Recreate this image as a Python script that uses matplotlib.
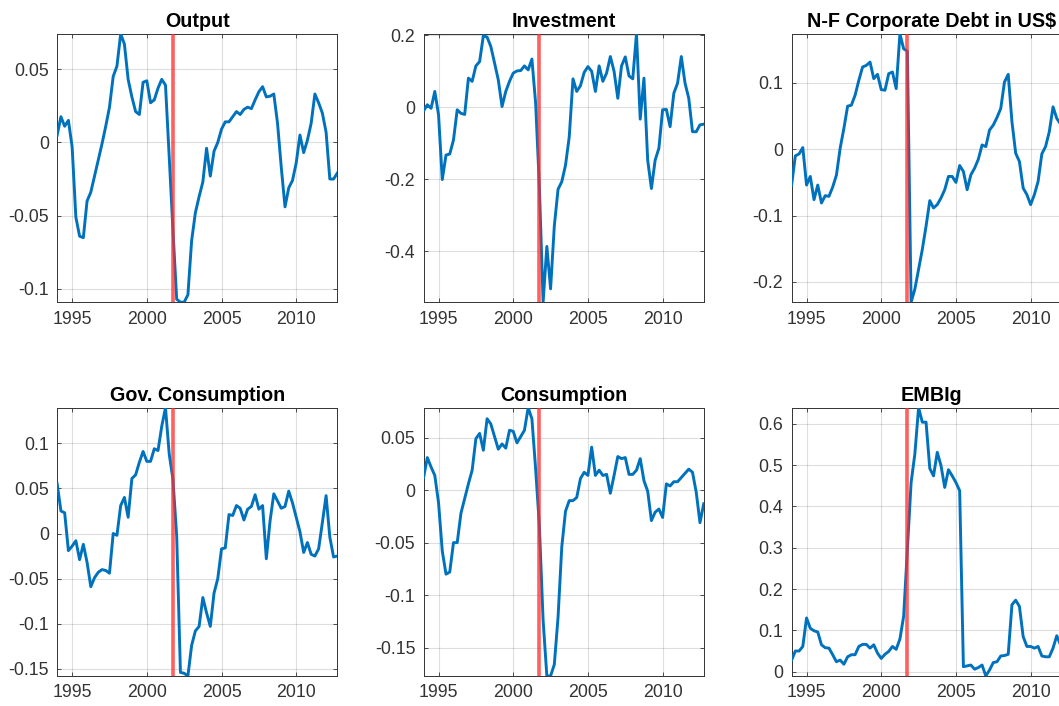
import numpy as np
import matplotlib
matplotlib.use("Agg")
import matplotlib.pyplot as plt
from matplotlib.ticker import FormatStrFormatter

plt.rcParams['font.family'] = ['Liberation Sans', 'DejaVu Sans']
plt.rcParams['axes.unicode_minus'] = False

# quarterly sample 1994Q1 - 2012Q4
quarters = 1994 + 0.25 * np.arange(76)
crisis = 2001.75

output = [
    0.005, 0.0175, 0.011, 0.015,
    -0.003, -0.051, -0.064, -0.065,
    -0.040, -0.034, -0.023, -0.012,
    -0.001, 0.011, 0.024, 0.045,
    0.052, 0.074, 0.067, 0.043,
    0.031, 0.021, 0.019, 0.041,
    0.042, 0.027, 0.029, 0.037,
    0.043, 0.039, -0.010, -0.060,
    -0.107, -0.109, -0.109, -0.104,
    -0.067, -0.048, -0.037, -0.027,
    -0.004, -0.023, -0.006, 0.000,
    0.009, 0.014, 0.014, 0.0175,
    0.021, 0.019, 0.0225, 0.024,
    0.023, 0.029, 0.0345, 0.038,
    0.031, 0.0315, 0.033, 0.013,
    -0.017, -0.044, -0.031, -0.026,
    -0.014, 0.005, -0.007, 0.0015,
    0.013, 0.033, 0.027, 0.020,
    0.007, -0.025, -0.025, -0.021,
]

investment = [
    -0.010, 0.007, -0.003, 0.044,
    -0.021, -0.201, -0.133, -0.130,
    -0.091, -0.007, -0.017, -0.020,
    0.081, 0.072, 0.115, 0.127,
    0.199, 0.195, 0.169, 0.123,
    0.076, 0.002, 0.044, 0.072,
    0.095, 0.101, 0.102, 0.115,
    0.104, 0.134, 0.011, -0.221,
    -0.542, -0.387, -0.505, -0.330,
    -0.228, -0.207, -0.161, -0.082,
    0.079, 0.044, 0.060, 0.097,
    0.113, 0.100, 0.044, 0.115,
    0.072, 0.095, 0.141, 0.100,
    0.025, 0.115, 0.140, 0.087,
    0.079, 0.204, -0.033, 0.081,
    -0.147, -0.226, -0.147, -0.114,
    -0.007, -0.006, -0.054, 0.039,
    0.067, 0.141, 0.067, 0.025,
    -0.068, -0.068, -0.049, -0.047,
]

nf_debt = [
    -0.054, -0.010, -0.007, 0.0025,
    -0.054, -0.041, -0.076, -0.054,
    -0.081, -0.070, -0.071, -0.057,
    -0.039, 0.0015, 0.0315, 0.065,
    0.0665, 0.0815, 0.104, 0.124,
    0.1265, 0.1315, 0.1065, 0.113,
    0.090, 0.089, 0.114, 0.1165,
    0.0915, 0.174, 0.1515, 0.148,
    -0.2306, -0.211, -0.181, -0.151,
    -0.116, -0.0775, -0.0885, -0.0835,
    -0.0735, -0.061, -0.041, -0.041,
    -0.050, -0.0245, -0.0335, -0.061,
    -0.0385, -0.0285, -0.015, 0.0065,
    0.004, 0.029, 0.0365, 0.048,
    0.0615, 0.1015, 0.113, 0.0415,
    -0.006, -0.0185, -0.0585, -0.0685,
    -0.0835, -0.0685, -0.0485, -0.007,
    0.004, 0.0265, 0.064, 0.0465,
    0.038, 0.035, 0.030, 0.028,
]

gov_cons = [
    0.055, 0.025, 0.023, -0.019,
    -0.014, -0.008, -0.029, -0.012,
    -0.032, -0.059, -0.049, -0.043,
    -0.040, -0.041, -0.044, 0.000,
    -0.002, 0.031, 0.040, 0.018,
    0.061, 0.065, 0.079, 0.091,
    0.080, 0.080, 0.094, 0.092,
    0.119, 0.1395, 0.088, 0.060,
    -0.003, -0.154, -0.155, -0.158,
    -0.124, -0.108, -0.103, -0.071,
    -0.088, -0.103, -0.066, -0.050,
    -0.017, -0.016, 0.021, 0.020,
    0.031, 0.028, 0.015, 0.027,
    0.030, 0.043, 0.027, 0.031,
    -0.028, 0.014, 0.044, 0.036,
    0.028, 0.030, 0.047, 0.034,
    0.018, 0.002, -0.021, -0.010,
    -0.023, -0.025, -0.017, 0.012,
    0.042, -0.004, -0.026, -0.025,
]

consumption = [
    0.012, 0.031, 0.022, 0.014,
    -0.012, -0.058, -0.080, -0.078,
    -0.050, -0.050, -0.022, -0.008,
    0.006, 0.019, 0.049, 0.054,
    0.038, 0.068, 0.063, 0.051,
    0.039, 0.044, 0.040, 0.057,
    0.056, 0.045, 0.051, 0.057,
    0.0785, 0.068, 0.020, -0.034,
    -0.124, -0.177, -0.177, -0.166,
    -0.121, -0.054, -0.020, -0.010,
    -0.010, -0.007, 0.011, 0.017,
    0.014, 0.041, 0.014, 0.019,
    0.014, 0.015, -0.003, 0.014,
    0.032, 0.030, 0.031, 0.015,
    0.015, 0.019, 0.030, 0.009,
    -0.001, -0.029, -0.021, -0.018,
    -0.026, 0.006, 0.004, 0.008,
    0.008, 0.012, 0.016, 0.020,
    0.017, -0.002, -0.031, -0.013,
]

embig = [
    0.028, 0.050, 0.050, 0.061,
    0.130, 0.105, 0.099, 0.096,
    0.065, 0.058, 0.057, 0.041,
    0.024, 0.028, 0.018, 0.036,
    0.041, 0.041, 0.061, 0.066,
    0.066, 0.057, 0.065, 0.045,
    0.032, 0.042, 0.049, 0.061,
    0.054, 0.079, 0.134, 0.296,
    0.458, 0.527, 0.639, 0.604,
    0.604, 0.492, 0.474, 0.531,
    0.499, 0.446, 0.489, 0.474,
    0.458, 0.438, 0.012, 0.014,
    0.016, 0.006, 0.010, 0.016,
    -0.0105, 0.004, 0.022, 0.024,
    0.038, 0.039, 0.042, 0.162,
    0.173, 0.158, 0.085, 0.061,
    0.061, 0.057, 0.061, 0.038,
    0.036, 0.036, 0.057, 0.087,
    0.065, 0.060, 0.055, 0.050,
]

titles = ['Output', 'Investment', 'N-F Corporate Debt in US$',
          'Gov. Consumption', 'Consumption', 'EMBIg']
series = [output, investment, nf_debt, gov_cons, consumption, embig]
yticks = [
    [-0.1, -0.05, 0, 0.05],
    [-0.4, -0.2, 0, 0.2],
    [-0.2, -0.1, 0, 0.1],
    [-0.15, -0.1, -0.05, 0, 0.05, 0.1],
    [-0.15, -0.1, -0.05, 0, 0.05],
    [0, 0.1, 0.2, 0.3, 0.4, 0.5, 0.6],
]

fig = plt.figure(figsize=(10.59, 7.06), dpi=100)

lefts = [0.054, 0.400, 0.7475]
bottoms = [0.572, 0.0425]
w, h = 0.2645, 0.380

for k in range(6):
    r, c = divmod(k, 3)
    ax = fig.add_axes([lefts[c], bottoms[r], w, h])
    y = np.array(series[k])
    ax.plot(quarters, y, color='#0072BD', lw=2.1, zorder=3)
    ax.axvline(crisis, color='#ff2b2b', lw=2.6, alpha=0.75, zorder=4)
    ax.set_xlim(quarters[0], quarters[-1])
    ax.set_ylim(y.min(), y.max())
    ax.set_xticks([1995, 2000, 2005, 2010])
    ax.set_yticks(yticks[k])
    ax.yaxis.set_major_formatter(FormatStrFormatter('%g'))
    ax.grid(True, color='#262626', alpha=0.15, lw=0.8)
    ax.set_axisbelow(True)
    ax.tick_params(direction='in', length=3, width=0.6, labelsize=12.8,
                   colors='#333333', top=True, right=True, pad=6)
    for s in ax.spines.values():
        s.set_color('#333333')
        s.set_linewidth(0.7)
    ax.set_title(titles[k], fontsize=14.2, fontweight='bold', pad=5)

fig.savefig('out.png', dpi=100)
